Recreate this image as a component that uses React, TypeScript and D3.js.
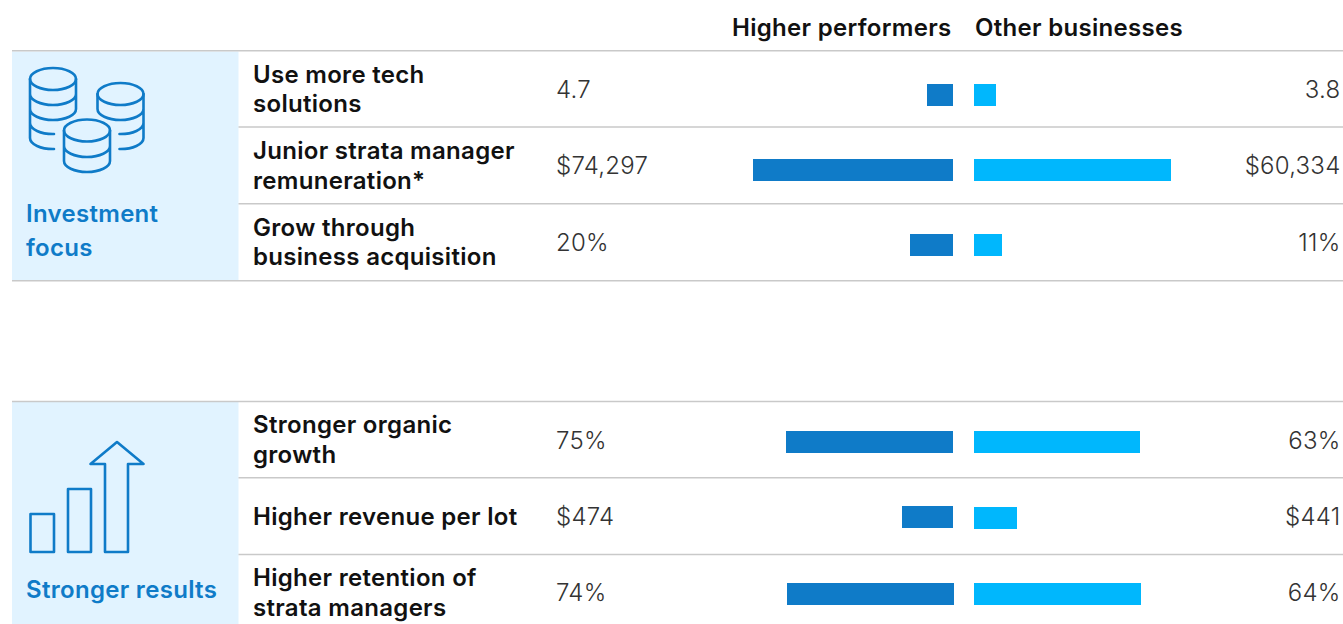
import React from "react";
import * as d3 from "d3";

const rowLabels: string[][] = [
  ["Use more tech", "solutions"],
  ["Junior strata manager", "remuneration*"],
  ["Grow through", "business acquisition"],
  ["Stronger organic", "growth"],
  ["Higher revenue per lot"],
  ["Higher retention of", "strata managers"],
];
const higherText = ["4.7", "$74,297", "20%", "75%", "$474", "74%"];
const otherText = ["3.8", "$60,334", "11%", "63%", "$441", "64%"];
// Bar lengths, as a share of the longest bar
const higherShare = [13, 100, 21.5, 83.5, 25.5, 83.5];
const otherShare = [11, 98.5, 14, 83, 21.5, 83.5];
const seriesNames = ["Higher performers", "Other businesses"];
const groupNames = [["Investment", "focus"], ["Stronger results"]];

const W = 1343, H = 624;
const BLUE = "#0F7BC8", CYAN = "#00B7FD", PANEL = "#E1F3FF", RULE = "#C9C9C9", INK = "#111";
const FONT = "Inter, sans-serif";
const BOLD = 24, WEIGHT = 600, TRACK = 0.3;

const xHigher = d3.scaleLinear().domain([0, 100]).range([953, 753]);
const xOther = d3.scaleLinear().domain([0, 100]).range([974, 1174]);
const rowIds = rowLabels.map((_, i) => i);
const yTop = d3.scalePoint<number>().domain(rowIds.slice(0, 3)).range([95, 245]);
const yBot = d3.scalePoint<number>().domain(rowIds.slice(3)).range([442, 594]);
const barY = (i: number) => (i < 3 ? yTop(i)! : yBot(i)!);
const barH = 22;
const leftNudgeX = [0, 0, 0, 0, 0, 1];
const leftNudgeY = [0, 0, 0, 0, -1, 0];

const outerRules = [50.75, 280.75, 401.5];
const innerRules = [127, 203.75, 477.75, 554.5];
const labelBase = [[83, 112], [159, 189], [236, 265], [433, 463], [525], [586, 616]];
const valueBase = [98, 174, 251, 449, 525, 601];

function Stack({ cx, cy, layers, partial = [] as number[], side = "both" }: any) {
  const rx = 23, ry = 11;
  const arcs = layers.map((b: number) => `M${cx - rx},${b - ry}A${rx},${ry} 0 0 0 ${cx + rx},${b - ry}`);
  const last = layers[layers.length - 1] - ry;
  const sides = `M${cx - rx},${cy}V${last}M${cx + rx},${cy}V${last}`;
  const extra = partial.map((b: number) => {
    const y0 = b - ry;
    return side === "left"
      ? `M${cx - rx},${y0}A${rx},${ry} 0 0 0 ${cx + 1},${b}`
      : `M${cx - 1},${b}A${rx},${ry} 0 0 0 ${cx + rx},${y0}`;
  });
  const ext = partial.length
    ? side === "left"
      ? `M${cx - rx},${last}V${partial[partial.length - 1] - ry}`
      : `M${cx + rx},${last}V${partial[partial.length - 1] - ry}`
    : "";
  return (
    <g fill="none" stroke={BLUE} strokeWidth={2.6} strokeLinecap="round" strokeLinejoin="round">
      <ellipse cx={cx} cy={cy} rx={rx} ry={ry} />
      <path d={sides + arcs.join("") + extra.join("") + ext} />
    </g>
  );
}

export default function App() {
  const bold = { fontSize: BOLD, fontWeight: WEIGHT, letterSpacing: TRACK };
  const light = { fontSize: BOLD, fontWeight: 300, fill: "#333", letterSpacing: 0.25 };
  return (
    <svg width={W} height={H} style={{ position: "absolute", left: 0, top: 0, background: "#fff" }} fontFamily={FONT}>
      <rect x={12} y={51.5} width={226.5} height={229} fill={PANEL} />
      <rect x={12} y={402} width={226.5} height={222} fill={PANEL} />
      {outerRules.map((y) => (
        <line key={y} x1={12} x2={W} y1={y} y2={y} stroke={RULE} strokeWidth={1.5} />
      ))}
      {innerRules.map((y) => (
        <line key={y} x1={238.5} x2={W} y1={y} y2={y} stroke={RULE} strokeWidth={1.5} />
      ))}

      <text x={732} y={36} {...bold} fill={INK}>{seriesNames[0]}</text>
      <text x={975} y={36} {...bold} fill={INK}>{seriesNames[1]}</text>

      <Stack cx={53} cy={79} layers={[105, 120]} partial={[134, 149]} side="left" />
      <Stack cx={120.5} cy={94} layers={[120]} partial={[134, 149]} side="right" />
      <Stack cx={87} cy={130.5} layers={[157, 172]} />

      <g fill="none" stroke={BLUE} strokeWidth={2.6} strokeLinejoin="round">
        <rect x={30.5} y={514} width={23.5} height={38} />
        <rect x={68} y={489} width={23} height={63} />
        <path d="M105,552V464H90.5L117,442L143.5,464H128V552Z" />
      </g>

      {groupNames[0].map((t, i) => (
        <text key={t} x={26} y={222 + i * 34} {...bold} fill={BLUE}>{t}</text>
      ))}
      <text x={26} y={598} {...bold} fill={BLUE}>{groupNames[1][0]}</text>

      {rowIds.map((i) => (
        <g key={i}>
          {rowLabels[i].map((t, j) => (
            <text key={t} x={253} y={labelBase[i][j]} {...bold} fill={INK}>{t}</text>
          ))}
          <text x={556} y={valueBase[i]} {...light}>{higherText[i]}</text>
          <text x={1340.5} y={valueBase[i]} textAnchor="end" {...light}>{otherText[i]}</text>
          <rect
            x={xHigher(higherShare[i]) + leftNudgeX[i]}
            y={barY(i) - barH / 2 + leftNudgeY[i]}
            width={xHigher(0) - xHigher(higherShare[i])}
            height={barH}
            fill={BLUE}
          />
          <rect
            x={xOther(0)}
            y={barY(i) - barH / 2}
            width={xOther(otherShare[i]) - xOther(0)}
            height={barH}
            fill={CYAN}
          />
        </g>
      ))}
    </svg>
  );
}
